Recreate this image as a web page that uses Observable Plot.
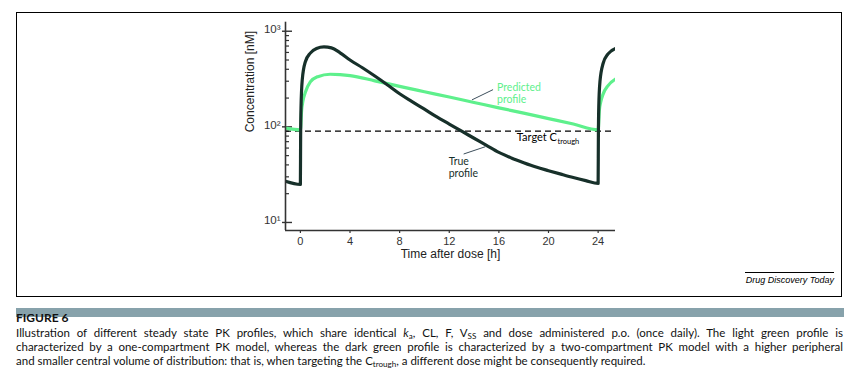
<!DOCTYPE html>
<html>
<head>
<meta charset="utf-8">
<script src="https://cdn.jsdelivr.net/npm/d3@7"></script>
<script src="https://cdn.jsdelivr.net/npm/@observablehq/plot@0.6"></script>
<style>
  html, body { margin: 0; padding: 0; background: #fff; }
  body { width: 850px; height: 379px; position: relative; overflow: hidden; }
  #box { position: absolute; left: 16px; top: 12px; width: 826px; height: 285px; border: 1.5px solid #000; box-sizing: border-box; }
  #chart { position: absolute; left: 0; top: 0; }
  #source { position: absolute; left: 745px; top: 272px; width: 89px; border-top: 1px solid #000; font: italic 9px "Liberation Sans", Arial, sans-serif; text-align: right; padding-top: 2px; color: #000; }
  #band { position: absolute; left: 16px; top: 308px; width: 828px; height: 9px; background: #87a2ab; }
  #figlabel { position: absolute; left: 16px; top: 310px; font: bold 12px Lato, sans-serif; color: #111; }
  #caption { position: absolute; left: 16px; top: 326px; width: 827px; font: 11.5px Lato, sans-serif; color: #111; }
  #caption .ln { white-space: nowrap; height: 14px; line-height: 14px; text-align: justify; text-align-last: justify; transform-origin: left center; }
  #caption .ln.last { text-align-last: left; }
  sub { font-size: 0.7em; vertical-align: -0.25em; line-height: 0; }
</style>
</head>
<body>
<div id="box"></div>
<div id="chart"></div>
<div id="source">Drug Discovery Today</div>
<div id="band"></div>
<div id="figlabel">FIGURE 6</div>
<div id="caption">
  <div class="ln">Illustration of different steady state PK profiles, which share identical <i>k</i><sub>a</sub>, CL, F, V<sub>SS</sub> and dose administered p.o. (once daily). The light green profile is</div>
  <div class="ln">characterized by a one-compartment PK model, whereas the dark green profile is characterized by a two-compartment PK model with a higher peripheral</div>
  <div class="ln last">and smaller central volume of distribution: that is, when targeting the C<sub>trough</sub>, a different dose might be consequently required.</div>
</div>
<script>
// ---- data ----
const trueTime = [-1.2, 0, 0.02, 0.05, 0.15, 0.4, 0.8, 1.3, 1.9, 2.5, 3.2, 4, 5, 6, 7, 8, 9, 10, 11, 12, 13, 14, 15, 16, 17, 18, 19, 20, 21, 22, 23, 24, 24.02, 24.05, 24.15, 24.4, 24.8, 25.4];
const trueConc = [27, 25, 80, 160, 310, 480, 590, 660, 685, 670, 595, 500, 415, 340, 276, 222, 184, 153, 127, 107, 90, 76, 64, 54, 47.3, 42.2, 38, 34.8, 32, 29.5, 27.4, 25.6, 80, 160, 300, 460, 580, 660];

const predTime = [-1.2, 0, 0.1, 0.2, 0.4, 0.8, 1.4, 2.4, 3.2, 4, 6, 8, 10, 12, 14, 16, 18, 20, 22, 24, 24.1, 24.2, 24.4, 24.8, 25.4];
const predConc = [97, 93, 150, 185, 230, 295, 335, 355, 352, 344, 303, 265, 233, 205, 180, 158, 139, 122, 107, 93, 150, 180, 220, 270, 316];

const targetCtrough = [90];
const xTicks = [0, 4, 8, 12, 16, 20, 24];
const yMajor = [10, 100, 1000];
const yMajorLabels = ["10¹", "10²", "10³"];
const yMinor = [20, 30, 40, 50, 60, 70, 80, 90, 200, 300, 400, 500, 600, 700, 800, 900];
const xTitle = "Time after dose [h]";
const yTitle = "Concentration [nM]";
const predictedLabel = ["Predicted", "profile"];
const trueLabel = ["True", "profile"];
const targetLabel = "Target C";
const targetSub = "trough";

const darkGreen = "#17302a";
const lightGreen = "#5ef08c";

const trueData = trueTime.map((t, i) => ({t, c: trueConc[i]}));
const predData = predTime.map((t, i) => ({t, c: predConc[i]}));

const xDomain = [-1.2, 25.4];
const yDomain = [8.24, 1243];
const pxPerHour = 330 / (xDomain[1] - xDomain[0]);
const h = px => px / pxPerHour;

const annFont = "Lato, sans-serif";
const annSize = 10.5;
const ctx = document.createElement("canvas").getContext("2d");
ctx.font = `${annSize}px Lato`;
const targetWidth = ctx.measureText(targetLabel).width;

const chart = Plot.plot({
  width: 850,
  height: 300,
  marginLeft: 285,
  marginRight: 235,
  marginTop: 21.7,
  marginBottom: 70,
  style: {background: "transparent", fontFamily: "'Liberation Sans', Arial, sans-serif", overflow: "visible"},
  x: {domain: xDomain, axis: null},
  y: {type: "log", domain: yDomain, axis: null},
  marks: [
    Plot.axisX({ticks: xTicks, tickSize: 3, tickPadding: 4, fontSize: 11, stroke: "#333", color: "#333", label: null, strokeWidth: 1.2}),
    Plot.text([xTitle], {frameAnchor: "bottom", dy: 27, text: d => d, fontSize: 12, fill: "#222"}),
    Plot.text([yTitle], {frameAnchor: "left", rotate: -90, dx: -35, dy: 6, text: d => d, fontSize: 12, fill: "#222"}),
    Plot.text(yMajor, {x: xDomain[0], y: d => d, text: (d, i) => yMajorLabels[i], textAnchor: "end", dx: -5, dy: -2, fontSize: 11.5, fill: "#333"}),
    Plot.ruleY(yMajor, {y: d => d, x1: xDomain[0] - h(3), x2: xDomain[0] + h(7), stroke: "#333", strokeWidth: 1.4}),
    Plot.ruleY(yMinor, {y: d => d, x1: xDomain[0], x2: xDomain[0] + h(4), stroke: "#333", strokeWidth: 1.2}),
    Plot.ruleY(targetCtrough, {stroke: "#000", strokeWidth: 1.3, strokeDasharray: "6,4"}),
    Plot.line(predData, {x: "t", y: "c", stroke: lightGreen, strokeWidth: 3.2, curve: "monotone-x", clip: true}),
    Plot.line(trueData, {x: "t", y: "c", stroke: darkGreen, strokeWidth: 3.2, curve: "monotone-x", clip: true}),
    // leader lines
    Plot.link([0], {x1: 13.83, y1: 191.5, x2: 15.53, y2: 245, stroke: "#3d4f5c", strokeWidth: 1}),
    Plot.link([0], {x1: 13.16, y1: 52, x2: 14.91, y2: 62, stroke: "#3d4f5c", strokeWidth: 1}),
    // annotations
    Plot.text(predictedLabel, {x: 15.85, y: [236.6, 177], text: d => d, textAnchor: "start", lineAnchor: "bottom", fill: lightGreen, fontSize: annSize, fontFamily: annFont}),
    Plot.text(trueLabel, {x: 11.95, y: [40.2, 30.1], text: d => d, textAnchor: "start", lineAnchor: "bottom", fill: darkGreen, fontSize: annSize, fontFamily: annFont}),
    Plot.text([targetLabel], {x: 17.45, y: 70.5, text: d => d, textAnchor: "start", lineAnchor: "bottom", fill: "#000", fontSize: 11, fontFamily: annFont}),
    Plot.text([targetSub], {x: 17.45, y: 70.5, text: d => d, textAnchor: "start", lineAnchor: "bottom", dx: targetWidth * 11 / annSize + 0.5, dy: 2.5, fill: "#000", fontSize: 7.5, fontFamily: annFont}),
    Plot.ruleX([xDomain[0]], {stroke: "#333", strokeWidth: 1.6}),
    Plot.ruleY([yDomain[0]], {stroke: "#333", strokeWidth: 1.6})
  ]
});
document.getElementById("chart").appendChild(chart);

// fit caption lines to the column width
document.querySelectorAll("#caption .ln").forEach(el => {
  const w = el.clientWidth, sw = el.scrollWidth;
  if (sw > w + 0.5) {
    el.style.textAlignLast = "left";
    el.style.width = sw + "px";
    el.style.transform = `scaleX(${w / sw})`;
  }
});
</script>
</body>
</html>
